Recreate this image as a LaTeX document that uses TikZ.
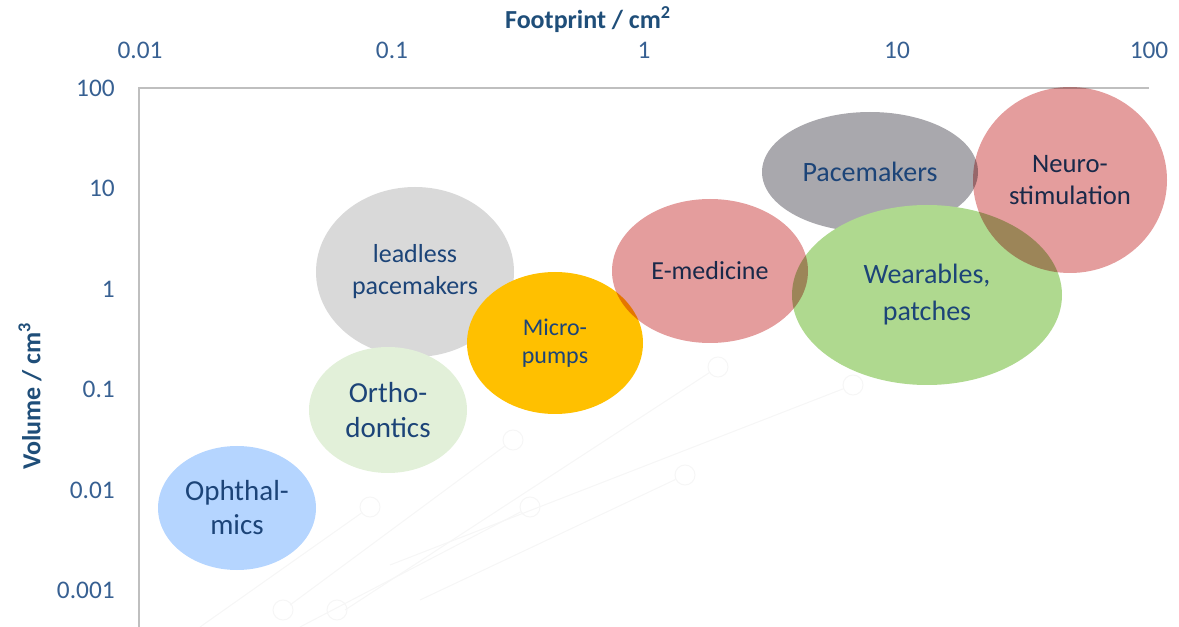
\documentclass[tikz,border=0pt]{standalone}
\usepackage{fontspec}
\setmainfont{Carlito}
\usetikzlibrary{shapes.geometric}
\definecolor{cophth}{RGB}{181,213,255}
\definecolor{cortho}{RGB}{226,240,217}
\definecolor{clead}{RGB}{217,217,217}
\definecolor{cmicro}{RGB}{255,192,0}
\definecolor{cred}{RGB}{228,157,157}
\definecolor{cpace}{RGB}{169,168,173}
\definecolor{cwear}{RGB}{175,217,143}
\definecolor{ctext}{RGB}{28,68,120}
\definecolor{ctick}{RGB}{55,96,146}
\definecolor{ctitle}{RGB}{31,78,121}
\definecolor{caxis}{RGB}{191,191,191}
\definecolor{cghost}{RGB}{246,246,246}
\tikzset{
  blob/.style={ellipse, inner sep=0pt, align=center, text=ctext},
  tick/.style={text=ctick, font=\fontsize{19}{22}\selectfont, inner sep=0pt},
  axtitle/.style={text=ctitle, font=\bfseries\fontsize{19.5}{22}\selectfont, inner sep=0pt},
  axisline/.style={draw=caxis, line width=1.5pt},
  ghost/.style={draw=cghost, line width=0.8pt},
  ghostring/.style={ghost, circle, minimum size=15pt, inner sep=0pt},
}
\begin{document}
\begin{tikzpicture}[x=0.75pt, y=-0.75pt]
\useasboundingbox (0,0) rectangle (1179,627);
% faint background sketch
\coordinate (g1) at (200,627); \node[ghostring] (gc1) at (370,507) {};
\coordinate (g2) at (290,605); \node[ghostring] (gc2) at (513,440) {};
\coordinate (g3) at (345,610); \node[ghostring] (gc3) at (718,367) {};
\coordinate (g4) at (390,565); \node[ghostring] (gc4) at (853,385) {};
\coordinate (g5) at (420,600); \node[ghostring] (gc5) at (685,475) {};
\coordinate (g6) at (300,627); \node[ghostring] (gc6) at (530,507) {};
\node[ghostring] (gc7) at (283,610) {};
\node[ghostring] (gc8) at (337,610) {};
\foreach \i in {1,...,6}{\draw[ghost] (g\i) -- (gc\i);}
% axes
\coordinate (o) at (139,88);
\coordinate (xe) at (1149,88);
\coordinate (ye) at (139,627);
\draw[axisline] (xe) -- (o) -- (ye);
% tick labels
\node[tick] (x1) at (140,50) {0.01};
\node[tick] (x2) at (392,50) {0.1};
\node[tick] (x3) at (644,50) {1};
\node[tick] (x4) at (897,50) {10};
\node[tick] (x5) at (1149,50) {100};
\node[tick, anchor=east] (y1) at (115,88) {100};
\node[tick, anchor=east] (y2) at (115,188) {10};
\node[tick, anchor=east] (y3) at (115,289) {1};
\node[tick, anchor=east] (y4) at (115,389) {0.1};
\node[tick, anchor=east] (y5) at (115,490) {0.01};
\node[tick, anchor=east] (y6) at (115,590) {0.001};
\node[axtitle] (xt) at (588,20) {Footprint / cm\textsuperscript{2}};
\node[axtitle, rotate=90] (yt) at (30,396) {Volume / cm\textsuperscript{3}};
% bubbles
\node[blob, fill=clead, minimum width=148.5pt, minimum height=127.5pt,
  font=\fontsize{19.5}{24}\selectfont] (lead) at (415,272) {leadless\\pacemakers};
\node[blob, fill=cortho, minimum width=118.5pt, minimum height=94.5pt,
  font=\fontsize{21.75}{26}\selectfont] (ortho) at (388,410) {Ortho-\\dontics};
\node[blob, fill=cophth, minimum width=118.5pt, minimum height=93pt,
  font=\fontsize{21.75}{25.5}\selectfont] (ophth) at (237,508) {Ophthal-\\mics};
\node[blob, fill=cmicro, minimum width=132pt, minimum height=106.5pt,
  font=\fontsize{18}{21}\selectfont] (micro) at (555,343) {Micro-\\pumps};
\node[blob, fill=cpace, minimum width=162pt, minimum height=90pt,
  font=\fontsize{21}{24}\selectfont] (pace) at (870,172) {Pacemakers};
\node[blob, fill=cwear, minimum width=202.5pt, minimum height=135pt,
  font=\fontsize{21}{27.75}\selectfont] (wear) at (927,295) {Wearables,\\patches};
\begin{scope}[blend mode=multiply]
\node[blob, fill=cred, minimum width=147pt, minimum height=108pt,
  font=\fontsize{19.5}{24}\selectfont] (emed) at (710,271) {E-medicine};
\node[blob, fill=cred, minimum width=145.5pt, minimum height=139.5pt,
  font=\fontsize{20}{24}\selectfont] (neuro) at (1070,180) {Neuro-\\stimulation};
\end{scope}
\end{tikzpicture}
\end{document}
